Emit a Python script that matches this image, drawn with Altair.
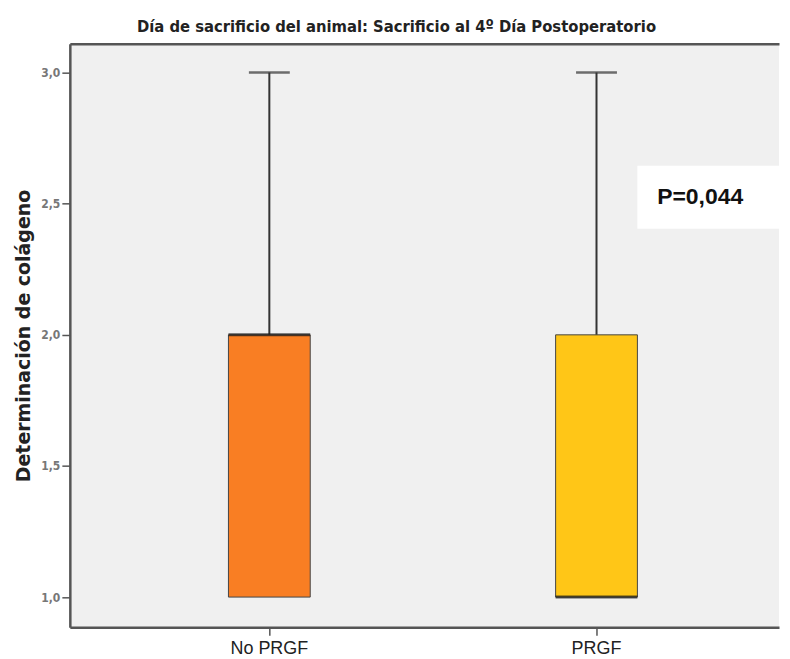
import altair as alt
import pandas as pd

groups = ["No PRGF", "PRGF"]
minimum = [1.0, 1.0]
q1 = [1.0, 1.0]
median = [2.0, 1.0]
q3 = [2.0, 2.0]
maximum = [3.0, 3.0]
colors = ["#F97E23", "#FFC617"]

p_label = ["P=0,044"]
p_y_top = [2.645]
p_y_bottom = [2.405]
p_y_text = [2.525]

df = pd.DataFrame({"group": groups, "min": minimum, "q1": q1, "median": median,
                   "q3": q3, "max": maximum})
ann = pd.DataFrame({"label": p_label, "y1": p_y_top, "y2": p_y_bottom, "yt": p_y_text})

COND = "DejaVu Sans Condensed"

yscale = alt.Scale(domain=[0.885, 3.11], nice=False, zero=False)
xscale = alt.Scale(domain=groups, paddingInner=0, paddingOuter=0.0838, align=0.655)

x_bottom = alt.X("group:N", scale=xscale, sort=groups, title=None,
                 axis=alt.Axis(orient="bottom", labelAngle=0, labelFontSize=18,
                               labelFont="Liberation Sans", labelColor="#222",
                               tickSize=8, tickColor="#555", tickWidth=1.5,
                               labelPadding=4, domain=True, domainColor="#555",
                               domainWidth=2.5))
y_main = alt.Y("q1:Q", scale=yscale, title="Determinación de colágeno",
               axis=alt.Axis(values=[1.0, 1.5, 2.0, 2.5, 3.0],
                             labelExpr="replace(format(datum.value, '.1f'), '.', ',')",
                             labelFont=COND, labelFontWeight="bold",
                             labelFontSize=12, labelColor="#777", labelPadding=2,
                             tickSize=8, tickColor="#555", tickWidth=1.5,
                             domain=True, domainColor="#555", domainWidth=2.5,
                             grid=False, titleFont="DejaVu Sans",
                             titleFontSize=19, titleFontWeight="bold",
                             titleColor="#222", titlePadding=7))

base = alt.Chart(df)

whisker = base.mark_rule(color="#333", strokeWidth=2).encode(
    x=x_bottom, y=y_main, y2="max:Q")

box = base.mark_bar(size=82, stroke="#444", strokeWidth=1).encode(
    x=alt.X("group:N", scale=xscale, sort=groups, axis=None),
    y=alt.Y("q1:Q", scale=yscale),
    y2="q3:Q",
    color=alt.Color("group:N", scale=alt.Scale(domain=groups, range=colors), legend=None))

med = base.mark_tick(size=82, thickness=3, color="#1a1a1a").encode(
    x=alt.X("group:N", scale=xscale, sort=groups, axis=None),
    y=alt.Y("median:Q", scale=yscale))

cap = base.mark_tick(size=41, thickness=2.5, color="#333").encode(
    x=alt.X("group:N", scale=xscale, sort=groups, title=None,
            axis=alt.Axis(orient="top", labels=False, ticks=False, title=None,
                          domain=True, domainColor="#555", domainWidth=2.5)),
    y=alt.Y("max:Q", scale=yscale))

pbox = alt.Chart(ann).mark_rect(color="white").encode(
    x=alt.value(569), x2=alt.value(714),
    y=alt.Y("y1:Q", scale=yscale), y2="y2:Q")

ptext = alt.Chart(ann).mark_text(font="Liberation Sans", fontWeight="bold",
                                 fontSize=23, color="#111").encode(
    x=alt.value(632), y=alt.Y("yt:Q", scale=yscale), text="label:N")

chart = alt.layer(whisker, box, med, cap, pbox, ptext).resolve_axis(
    x="independent"
).properties(
    width=711, height=585,
    padding={"left": 6, "top": 10, "right": 0, "bottom": 0},
    background="white",
    title=alt.TitleParams(
        "Día de sacrificio del animal: Sacrificio al 4º Día Postoperatorio",
        font=COND, fontSize=16.5, fontWeight="bold",
        color="#222", anchor="middle", dx=-28, offset=8),
).configure_view(fill="#F0F0F0", stroke=None)

chart.save("out.html", embed_options={"renderer": "svg", "actions": False})
